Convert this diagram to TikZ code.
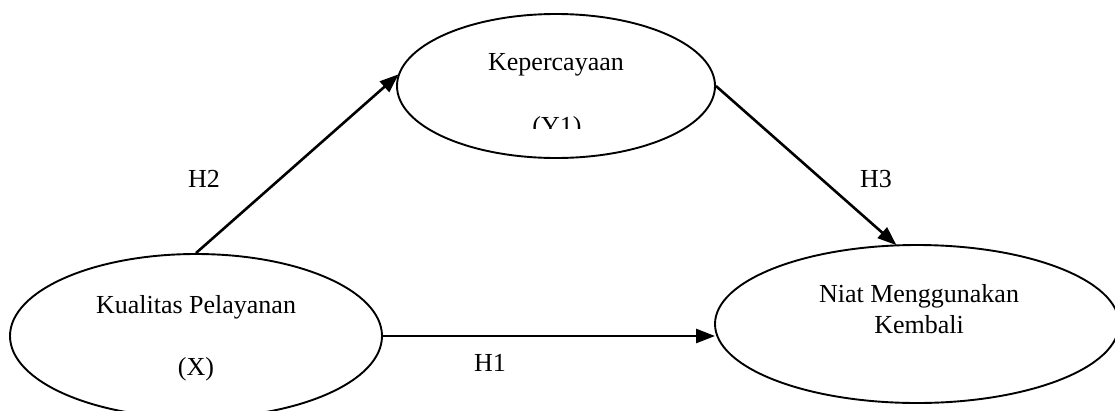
\documentclass[tikz,border=0pt]{standalone}
\usepackage{fontspec}
\setmainfont{Liberation Serif}
\usetikzlibrary{arrows.meta,shapes.geometric}

\tikzset{
  construct/.style={draw=black, line width=1.9pt, ellipse, inner sep=0pt},
  caption/.style={font=\fontsize{26}{30}\selectfont, inner sep=0pt, anchor=base},
  path/.style={draw=black, line width=2.6pt,
    -{Triangle[length=19pt,width=14pt]}, shorten >=-1pt}
}

\begin{document}
\begin{tikzpicture}[x=1pt, y=-1pt]
  \useasboundingbox (0,0) rectangle (1115,410);
  \clip (0,0) rectangle (1115,410);

  % latent constructs
  \node[construct, minimum width=318pt, minimum height=144pt] (y1) at (556,86) {};
  \node[construct, minimum width=372pt, minimum height=164pt] (x) at (196,336) {};
  \node[construct, minimum width=404pt, minimum height=158pt] (z) at (917,324) {};

  % construct labels
  \node[caption] (ty1) at (556,70) {Kepercayaan};
  \begin{scope}
    \clip (397,0) rectangle (715,128);
    \node[caption] (ty1b) at (557,134) {(Y1)};
  \end{scope}
  \node[caption] (tx1) at (196,313) {Kualitas Pelayanan};
  \node[caption] (tx2) at (196,375) {(X)};
  \node[caption] (tz1) at (919,302) {Niat Menggunakan};
  \node[caption] (tz2) at (919,333) {Kembali};

  % hypothesised paths
  \draw[path] (x.north) -- (y1.176);
  \draw[path] (y1.east) -- (z.105);
  \draw[path] (x.east) -- (x.east -| z.west);

  % hypothesis labels
  \node[caption] (h2) at (204,187) {H2};
  \node[caption] (h3) at (876,187) {H3};
  \node[caption] (h1) at (490,371) {H1};
\end{tikzpicture}
\end{document}
